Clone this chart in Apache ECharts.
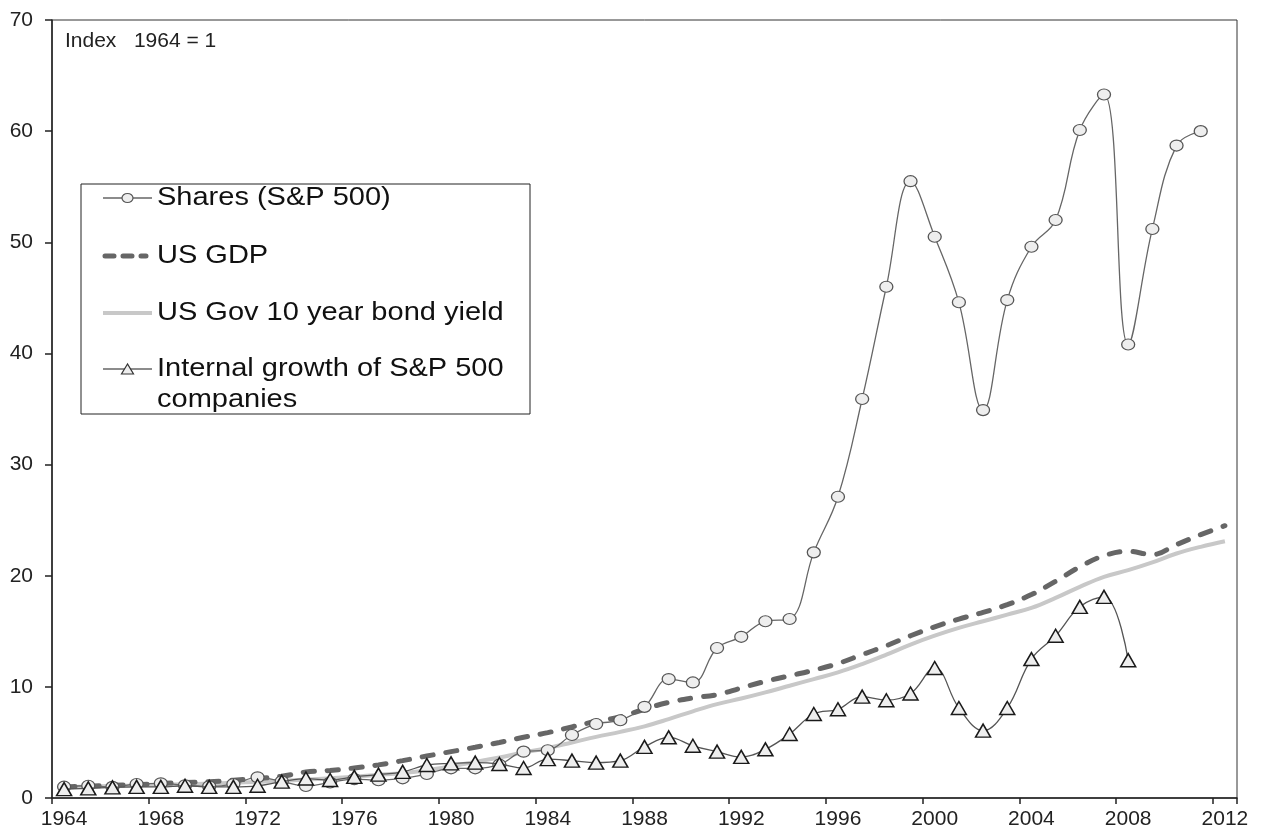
<!DOCTYPE html>
<html><head><meta charset="utf-8">
<script src="https://cdn.jsdelivr.net/npm/echarts@6/dist/echarts.min.js"></script>
<style>html,body{margin:0;padding:0;background:#fff}#c{width:1264px;height:833px}</style>
</head><body><div id="c"></div>
<script>
const years = ['1964','1965','1966','1967','1968','1969','1970','1971','1972','1973',
  '1974','1975','1976','1977','1978','1979','1980','1981','1982','1983',
  '1984','1985','1986','1987','1988','1989','1990','1991','1992','1993',
  '1994','1995','1996','1997','1998','1999','2000','2001','2002','2003',
  '2004','2005','2006','2007','2008','2009','2010','2011','2012'];

const shares = [1.02,1.1,1.0,1.26,1.32,1.15,1.05,1.25,1.86,1.5,
  1.08,1.4,1.7,1.6,1.77,2.16,2.67,2.67,3.0,4.17,
  4.3,5.67,6.66,7.0,8.2,10.7,10.4,13.5,14.5,15.9,
  16.1,22.1,27.1,35.9,46.0,55.5,50.5,44.6,34.9,44.8,
  49.6,52.0,60.1,63.3,40.8,51.2,58.7,60.0,null];

const gdp = [1.0,1.06,1.14,1.2,1.3,1.4,1.47,1.6,1.75,1.95,
  2.34,2.48,2.7,2.98,3.36,3.78,4.17,4.56,5.0,5.46,
  5.88,6.4,6.9,7.3,8.0,8.6,9.0,9.3,9.9,10.5,
  11.0,11.5,12.1,12.9,13.7,14.6,15.4,16.1,16.7,17.4,
  18.3,19.5,20.8,21.8,22.2,21.9,22.8,23.7,24.5];

const bond = [1.0,1.03,1.08,1.12,1.18,1.24,1.3,1.37,1.45,1.55,
  1.66,1.78,1.92,2.08,2.25,2.5,2.85,3.25,3.65,4.1,
  4.5,5.0,5.5,5.95,6.45,7.1,7.8,8.45,8.95,9.5,
  10.1,10.7,11.3,12.05,12.9,13.8,14.6,15.3,15.9,16.5,
  17.1,18.0,19.0,19.9,20.5,21.2,22.0,22.6,23.1];

const internal = [0.8,0.87,0.96,1.0,1.0,1.1,1.0,1.0,1.1,1.47,
  1.75,1.62,1.9,2.1,2.35,2.97,3.12,3.18,3.06,2.7,
  3.5,3.36,3.18,3.36,4.6,5.46,4.7,4.17,3.7,4.38,
  5.76,7.56,7.98,9.12,8.8,9.4,11.7,8.1,6.06,8.1,
  12.5,14.6,17.2,18.1,12.4,null,null,null,null];

const seriesNames = ['Shares (S&P 500)','US GDP','US Gov 10 year bond yield','Internal growth of S&P 500','companies'];
const indexNote = 'Index   1964 = 1';

const FONT = '"Liberation Sans", Arial, sans-serif';
const chart = echarts.init(document.getElementById('c'), null, {renderer:'canvas'});

const legendText = (txt, y) => ({
  type:'text', x:157, y:y, scaleX:1.16, z:102,
  style:{text:txt, font:'25px "Liberation Sans", Arial, sans-serif', fill:'#111', verticalAlign:'middle', align:'left'}
});

const option = {
  animation:false,
  backgroundColor:'#fff',
  grid:{left:52, top:20, right:27, bottom:35, show:true, borderColor:'#333', borderWidth:1, outerBoundsMode:'none'},
  xAxis:{type:'category', data:years, boundaryGap:true,
    axisLine:{show:true, lineStyle:{color:'#222', width:1.5}},
    axisTick:{show:true, interval:3, alignWithLabel:false, length:6, inside:false, lineStyle:{color:'#222', width:1.5}},
    axisLabel:{interval:3, fontSize:21, color:'#222', fontFamily:FONT, margin:11},
    splitLine:{show:false}},
  yAxis:{type:'value', min:0, max:70, interval:10,
    axisLine:{show:true, lineStyle:{color:'#222', width:1.5}},
    axisTick:{show:true, length:7, lineStyle:{color:'#222', width:1.5}},
    axisLabel:{fontSize:21, color:'#222', fontFamily:FONT, margin:19},
    splitLine:{show:false}},
  series:[
    {name:seriesNames[0], type:'line', data:shares, smooth:0.4, symbol:'circle', symbolSize:[13,11],
      showAllSymbol:true, connectNulls:false, z:3,
      lineStyle:{color:'#666', width:1.3},
      itemStyle:{color:'#eeeeee', borderColor:'#555', borderWidth:1.2}},
    {name:seriesNames[1], type:'line', data:gdp, smooth:0.4, symbol:'none', z:2,
      lineStyle:{color:'#666', width:5, type:[11,13], cap:'round'}},
    {name:seriesNames[2], type:'line', data:bond, smooth:0.4, symbol:'none', z:1,
      lineStyle:{color:'#c8c8c8', width:4}},
    {name:seriesNames[3], type:'line', data:internal, smooth:0.4, symbol:'triangle', symbolSize:[15,13],
      showAllSymbol:true, connectNulls:false, z:4,
      lineStyle:{color:'#555', width:1.3},
      itemStyle:{color:'#eeeeee', borderColor:'#1a1a1a', borderWidth:1.5}}
  ],
  graphic:[
    {type:'text', x:65, y:41, z:100,
      style:{text:indexNote, font:'21px "Liberation Sans", Arial, sans-serif', fill:'#222', verticalAlign:'middle'}},
    {type:'rect', shape:{x:81, y:184, width:449, height:230}, z:100,
      style:{fill:'#fff', stroke:'#222', lineWidth:1}},
    {type:'line', shape:{x1:103, y1:198, x2:152, y2:198}, z:101, style:{stroke:'#666', lineWidth:1.3}},
    {type:'ellipse', shape:{cx:127.5, cy:198, rx:5.5, ry:4.5}, z:102, style:{fill:'#eee', stroke:'#555', lineWidth:1.2}},
    legendText(seriesNames[0], 198),
    {type:'line', shape:{x1:105, y1:256, x2:146, y2:256}, z:101,
      style:{stroke:'#666', lineWidth:5, lineDash:[9,9], lineCap:'round'}},
    legendText(seriesNames[1], 256),
    {type:'line', shape:{x1:103, y1:313, x2:152, y2:313}, z:101, style:{stroke:'#c8c8c8', lineWidth:4}},
    legendText(seriesNames[2], 313),
    {type:'line', shape:{x1:103, y1:369, x2:152, y2:369}, z:101, style:{stroke:'#666', lineWidth:1.3}},
    {type:'polygon', shape:{points:[[127.5,364],[121.5,374],[133.5,374]]}, z:102,
      style:{fill:'#eee', stroke:'#333', lineWidth:1.2}},
    legendText(seriesNames[3], 369),
    legendText(seriesNames[4], 400)
  ]
};
chart.setOption(option);
</script>
</body></html>
